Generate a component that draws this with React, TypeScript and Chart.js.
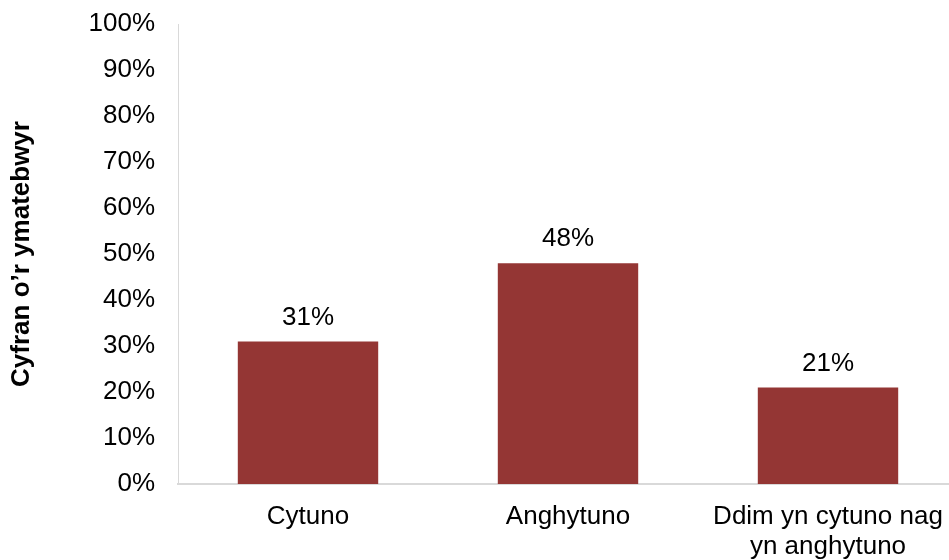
import React, { useEffect, useRef } from "react";
import { Chart, registerables } from "chart.js";

Chart.register(...registerables);

const categories: (string | string[])[] = [
  "Cytuno",
  "Anghytuno",
  ["Ddim yn cytuno nag", "yn anghytuno"],
];
const values: number[] = [31, 48, 21];
const yTitle = "Cyfran o\u2019r ymatebwyr";
const barColor = "#943634";
const FONT = "'Liberation Sans', Arial, sans-serif";
const FS = 26;

const labelPlugin = {
  id: "barValueLabels",
  afterDatasetsDraw(chart: any) {
    const ctx = chart.ctx;
    const meta = chart.getDatasetMeta(0);
    ctx.save();
    ctx.font = `${FS}px ${FONT}`;
    ctx.fillStyle = "#000";
    ctx.textAlign = "center";
    ctx.textBaseline = "middle";
    meta.data.forEach((bar: any, i: number) => {
      ctx.fillText(values[i] + "%", bar.x, bar.y - 24);
    });
    ctx.restore();
  },
};

export default function App() {
  const ref = useRef<HTMLCanvasElement>(null);
  useEffect(() => {
    document.body.style.overflow = "hidden";
    const chart = new Chart(ref.current!, {
      type: "bar",
      data: {
        labels: categories,
        datasets: [
          {
            data: values,
            backgroundColor: barColor,
            categoryPercentage: 1,
            barPercentage: 0.54,
          },
        ],
      },
      options: {
        animation: false,
        responsive: true,
        maintainAspectRatio: false,
        layout: { padding: { top: 24, right: 0, left: 0, bottom: 0 } },
        plugins: { legend: { display: false }, tooltip: { enabled: false } },
        scales: {
          x: {
            grid: { display: false, drawTicks: false },
            border: { display: true, color: "#d9d9d9", width: 2 },
            ticks: {
              color: "#000",
              font: { family: FONT, size: FS, lineHeight: 1.154 },
              padding: 18,
              maxRotation: 0,
              autoSkip: false,
            },
            afterFit(scale: any) {
              scale.height = 76;
              scale.paddingLeft = 0;
              scale.paddingRight = 0;
              scale.paddingTop = 0;
              scale.paddingBottom = 0;
            },
          },
          y: {
            min: 0,
            max: 100,
            grid: { display: false, drawTicks: false },
            border: { display: true, color: "#d9d9d9", width: 1 },
            ticks: {
              stepSize: 10,
              color: "#000",
              font: { family: FONT, size: FS },
              padding: 23,
              callback: (v: any) => v + "%",
            },
            title: {
              display: true,
              text: yTitle,
              color: "#000",
              font: { family: FONT, size: FS, weight: "bold", lineHeight: 1.2 },
              padding: { top: 6, bottom: 0 },
            },
            afterFit(scale: any) {
              scale.width = 178;
              scale.paddingTop = 0;
              scale.paddingBottom = 0;
              scale.paddingLeft = 0;
              scale.paddingRight = 0;
            },
          },
        },
      },
      plugins: [labelPlugin],
    });
    return () => chart.destroy();
  }, []);
  return (
    <div style={{ position: "absolute", left: 0, top: 0, width: 958, height: 560 }}>
      <canvas ref={ref} />
    </div>
  );
}
